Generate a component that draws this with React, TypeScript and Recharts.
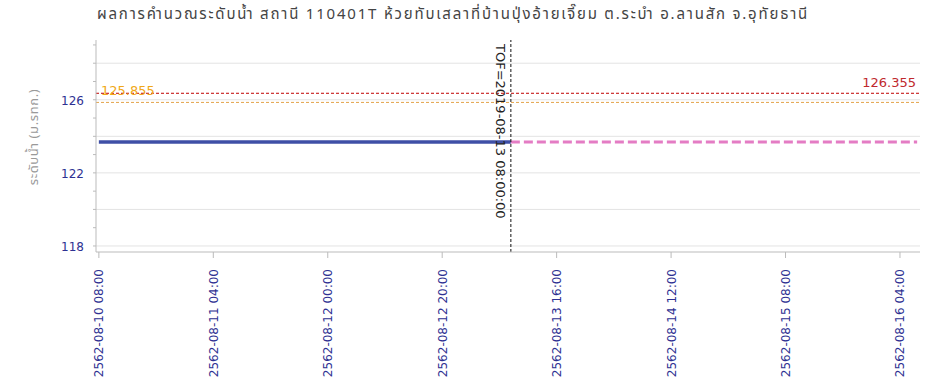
import { CartesianGrid, Line, LineChart, ReferenceLine, XAxis, YAxis } from 'recharts'

const title =
  'ผลการคำนวณระดับน้ำ สถานี 110401T ห้วยทับเสลาที่บ้านปุ่งอ้ายเจี๊ยม ต.ระบำ อ.ลานสัก จ.อุทัยธานี'
const yTitle = 'ระดับน้ำ (ม.รทก.)'

// hours after 2562-08-10 08:00
const obsHours = [0, 6, 12, 18, 24, 30, 36, 42, 48, 54, 60, 66, 72]
const obsLevel = [123.69, 123.69, 123.69, 123.69, 123.69, 123.69, 123.69, 123.69, 123.69, 123.69, 123.69, 123.69, 123.69]
const fcHours = [72, 84, 96, 108, 120, 132, 143]
const fcLevel = [123.69, 123.69, 123.69, 123.69, 123.69, 123.69, 123.69]

const xTicks = [0, 20, 40, 60, 80, 100, 120, 140]
const xTickLabels = [
  '2562-08-10 08:00',
  '2562-08-11 04:00',
  '2562-08-12 00:00',
  '2562-08-12 20:00',
  '2562-08-13 16:00',
  '2562-08-14 12:00',
  '2562-08-15 08:00',
  '2562-08-16 04:00',
]
const yTicks = [118, 119, 120, 121, 122, 123, 124, 125, 126, 127, 128, 129]
const yLabelled = [118, 122, 126]
const gridValues = [118, 120, 122, 124, 126, 128]

const bankLevel = 126.355
const warnLevel = 125.855
const tofHour = 72
const tofLabel = 'TOF=2019-08-13 08:00:00'

const obsData = obsHours.map((h, i) => ({ h, v: obsLevel[i] }))
const fcData = fcHours.map((h, i) => ({ h, v: fcLevel[i] }))

const FONT = '"DejaVu Sans", Verdana, sans-serif'
const THAI = '"Noto Sans Thai", Tahoma, "DejaVu Sans", sans-serif'
const NAVY = '#2e3192'

function XTick(props: any) {
  const { x, y, payload } = props
  const i = xTicks.indexOf(payload.value)
  return (
    <text
      x={x + 4.5}
      y={y + 9}
      transform={`rotate(-90 ${x + 4.5} ${y + 9})`}
      textAnchor="end"
      fontSize={12}
      fontFamily={FONT}
      fill={NAVY}
    >
      {xTickLabels[i]}
    </text>
  )
}

function YTick(props: any) {
  const { x, y, payload } = props
  if (!yLabelled.includes(payload.value)) return null
  return (
    <text x={x - 7} y={y + 5} textAnchor="end" fontSize={12} fontFamily={FONT} fill={NAVY}>
      {payload.value}
    </text>
  )
}

export default function App() {
  return (
    <div style={{ position: 'absolute', left: 0, top: 0, width: 926, height: 382, background: '#fff' }}>
      <div
        style={{
          position: 'absolute',
          left: -10,
          top: 3,
          width: 926,
          textAlign: 'center',
          fontSize: 15,
          letterSpacing: 1.8,
          color: '#444',
          fontFamily: THAI,
        }}
      >
        {title}
      </div>
      <LineChart width={926} height={382} margin={{ top: 40, right: 6, bottom: 0, left: 0 }}>
        <CartesianGrid horizontal vertical={false} horizontalValues={gridValues} stroke="#e3e3e3" />
        <XAxis
          dataKey="h"
          type="number"
          domain={[-0.5, 143.5]}
          ticks={xTicks}
          allowDataOverflow
          height={130}
          tick={<XTick />}
          tickSize={6}
          stroke="#bbb"
          interval={0}
        />
        <YAxis
          type="number"
          domain={[117.67, 129.27]}
          ticks={yTicks}
          allowDataOverflow
          width={96}
          tick={<YTick />}
          tickSize={3}
          stroke="#bbb"
          interval={0}
          label={() => {
            const cx = 38
            const cy = 137
            return (
              <text
                x={cx}
                y={cy}
                transform={`rotate(-90 ${cx} ${cy})`}
                textAnchor="middle"
                fontSize={13}
                letterSpacing={0.6}
                fontFamily={THAI}
                fill="#999"
              >
                {yTitle}
              </text>
            )
          }}
        />
        <ReferenceLine
          y={bankLevel}
          stroke="#c00000"
          strokeDasharray="3 2"
          label={(p: any) => (
            <text
              x={p.viewBox.x + p.viewBox.width - 4}
              y={p.viewBox.y - 6}
              textAnchor="end"
              fontSize={13}
              fontFamily={FONT}
              fill="#c0282d"
            >
              {String(bankLevel)}
            </text>
          )}
        />
        <ReferenceLine
          y={warnLevel}
          stroke="#e3a34a"
          strokeDasharray="3 2"
          label={(p: any) => (
            <text x={p.viewBox.x + 5} y={p.viewBox.y - 7} fontSize={13} fontFamily={FONT} fill="#f0a818">
              {String(warnLevel)}
            </text>
          )}
        />
        <Line
          data={obsData}
          dataKey="v"
          stroke="#3f4fa6"
          strokeWidth={3.5}
          dot={false}
          isAnimationActive={false}
        />
        <Line
          data={fcData}
          dataKey="v"
          stroke="#e47cc4"
          strokeWidth={3}
          strokeDasharray="9 4"
          dot={false}
          isAnimationActive={false}
        />
        <ReferenceLine
          x={tofHour}
          stroke="#111"
          strokeDasharray="3 2"
          label={(p: any) => {
            const tx = p.viewBox.x - 14.5
            const ty = 44
            return (
              <text
                x={tx}
                y={ty}
                transform={`rotate(90 ${tx} ${ty})`}
                fontSize={13}
                fontFamily={FONT}
                fill="#222"
              >
                {tofLabel}
              </text>
            )
          }}
        />
      </LineChart>
    </div>
  )
}
